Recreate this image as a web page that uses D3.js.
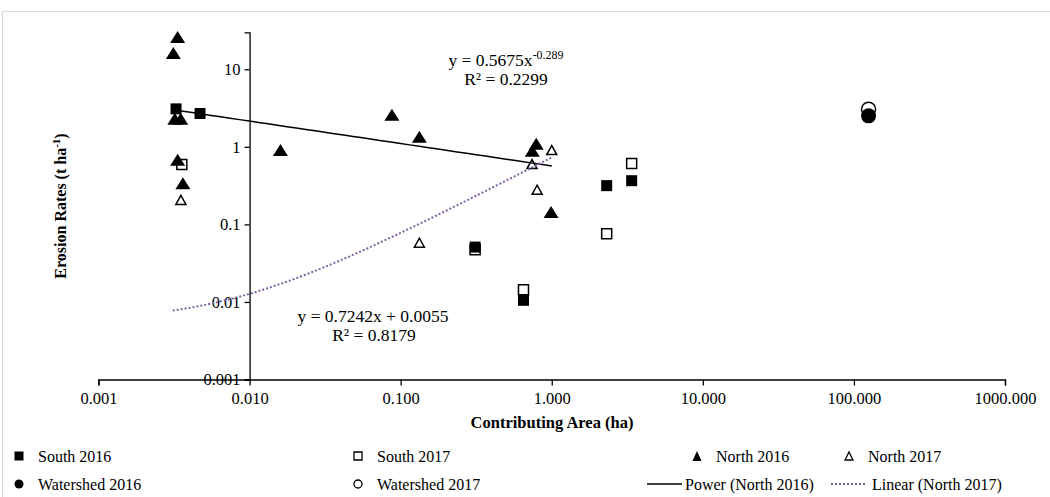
<!DOCTYPE html>
<html>
<head>
<meta charset="utf-8">
<script src="https://cdn.jsdelivr.net/npm/d3@7"></script>
<style>
  body { margin: 0; background: #fff; }
  text { font-family: "Liberation Serif", "Times New Roman", serif; fill: #000; }
</style>
</head>
<body>
<div id="chart"></div>
<script>
// data: [contributing area (ha), erosion rate (t/ha)]
var south2016 = [[0.00326, 3.09], [0.0047, 2.69], [0.311, 0.051], [0.65, 0.0105], [2.31, 0.316], [3.38, 0.366]];
var south2017 = [[0.00356, 0.59], [0.311, 0.047], [0.65, 0.0144], [2.31, 0.0757], [3.38, 0.61]];
var north2016 = [[0.00334, 26], [0.00313, 16.2], [0.0032, 2.3], [0.0035, 2.3], [0.00334, 0.68], [0.00362, 0.34],
                 [0.016, 0.91], [0.0875, 2.59], [0.133, 1.35], [0.789, 1.10], [0.743, 0.89], [0.99, 0.144]];
var north2017 = [[0.00351, 0.207], [0.133, 0.058], [0.74, 0.60], [0.80, 0.28], [1.0, 0.91]];
var watershed2016 = [[125, 2.51]];
var watershed2017 = [[125, 3.06]];

// trendline equations as printed on the chart
var powerA = 0.5675, powerB = -0.289, powerRange = [0.00313, 1.0];
var linM = 0.7242, linC = 0.0055, linRange = [0.0031, 1.0];

var xTicks = [0.001, 0.01, 0.1, 1, 10, 100, 1000];
var xTickLabels = ["0.001", "0.010", "0.100", "1.000", "10.000", "100.000", "1000.000"];
var yTicks = [0.001, 0.01, 0.1, 1, 10];
var yTickLabels = ["0.001", "0.01", "0.1", "1", "10"];

var W = 1050, H = 497;
var svg = d3.select("#chart").append("svg").attr("width", W).attr("height", H);

// chart area border
svg.append("rect").attr("x", 2.5).attr("y", 11.5).attr("width", 1100).attr("height", 600)
    .attr("fill", "none").attr("stroke", "#d9d9d9").attr("stroke-width", 1);

var x = d3.scaleLog().domain([0.001, 1000]).range([98.5, 1005]);
var y = d3.scaleLog().domain([0.001, 30]).range([379.5, 32.3]);

// x axis
var xAxis = d3.axisBottom(x).tickValues(xTicks).tickSizeOuter(0).tickSize(6)
    .tickFormat(function (d, i) { return xTickLabels[i]; });
var gx = svg.append("g").attr("transform", "translate(0," + y(0.001) + ")").call(xAxis);
gx.select(".domain").attr("stroke", "#000").attr("stroke-width", 1.3);
gx.selectAll(".tick line").attr("stroke", "#000").attr("stroke-width", 1.3);
gx.selectAll(".tick text").attr("font-size", 16.5).attr("font-family", "Liberation Serif").attr("dy", "0.95em");

// y axis crosses at x = 0.01
var yAxis = d3.axisLeft(y).tickValues(yTicks).tickSizeOuter(0).tickSize(5)
    .tickFormat(function (d, i) { return yTickLabels[i]; });
var gy = svg.append("g").attr("transform", "translate(" + x(0.01) + ",0)").call(yAxis);
gy.select(".domain").attr("stroke", "#000").attr("stroke-width", 1.3);
gy.selectAll(".tick line").attr("stroke", "#000").attr("stroke-width", 1.3);
gy.selectAll(".tick text").attr("font-size", 16.5).attr("font-family", "Liberation Serif").attr("x", -9);

// axis titles
svg.append("text").attr("x", 552).attr("y", 428).attr("text-anchor", "middle")
    .attr("font-size", 16.5).attr("font-weight", "bold").text("Contributing Area (ha)");
var yt = svg.append("text").attr("transform", "translate(66,206) rotate(-90)")
    .attr("text-anchor", "middle").attr("font-size", 16).attr("font-weight", "bold");
yt.append("tspan").text("Erosion Rates (t ha");
yt.append("tspan").attr("font-size", 11).attr("dy", -6).text("-1");
yt.append("tspan").attr("dy", 6).text(")");

// marker shapes
function tri(w, h) {
  return "M0," + (-h / 2) + "L" + (w / 2) + "," + (h / 2) + "L" + (-w / 2) + "," + (h / 2) + "Z";
}
function sq(s) {
  return "M" + (-s / 2) + "," + (-s / 2) + "h" + s + "v" + s + "h" + (-s) + "Z";
}
function circ(r) {
  return d3.symbol().type(d3.symbolCircle).size(Math.PI * r * r)();
}

function drawSeries(data, d, fill, stroke) {
  svg.append("g").selectAll("path").data(data).join("path")
    .attr("transform", function (p) { return "translate(" + x(p[0]) + "," + y(p[1]) + ")"; })
    .attr("d", d)
    .attr("fill", fill)
    .attr("stroke", stroke)
    .attr("stroke-width", stroke === "none" ? 0 : 1.5);
}

drawSeries(south2017, sq(10), "#fff", "#000");
drawSeries(south2016, sq(11), "#000", "none");
drawSeries(north2016, tri(15, 12), "#000", "none");
drawSeries(north2017, tri(10, 9), "#fff", "#000");
drawSeries(watershed2017, circ(7), "#fff", "#000");
drawSeries(watershed2016, circ(7.5), "#000", "none");

// trendlines
var line = d3.line().x(function (p) { return x(p[0]); }).y(function (p) { return y(p[1]); });
function sampleLog(r, n, f) {
  var a = Math.log10(r[0]), b = Math.log10(r[1]);
  return d3.range(n + 1).map(function (i) { var v = Math.pow(10, a + (b - a) * i / n); return [v, f(v)]; });
}
svg.append("path").datum(sampleLog(powerRange, 40, function (v) { return powerA * Math.pow(v, powerB); }))
    .attr("d", line).attr("fill", "none").attr("stroke", "#000").attr("stroke-width", 1.5);
svg.append("path").datum(sampleLog(linRange, 120, function (v) { return linM * v + linC; }))
    .attr("d", line).attr("fill", "none").attr("stroke", "#8064a2").attr("stroke-width", 2)
    .attr("stroke-dasharray", "2,2");

// equation labels
var e1 = svg.append("text").attr("x", 506).attr("y", 66).attr("text-anchor", "middle").attr("font-size", 17.5);
e1.append("tspan").text("y = 0.5675x");
e1.append("tspan").attr("font-size", 12).attr("dy", -7).text("-0.289");
svg.append("text").attr("x", 506).attr("y", 85).attr("text-anchor", "middle").attr("font-size", 17.5).text("R² = 0.2299");
svg.append("text").attr("x", 373).attr("y", 322).attr("text-anchor", "middle").attr("font-size", 17.5).text("y = 0.7242x  + 0.0055");
svg.append("text").attr("x", 374).attr("y", 341).attr("text-anchor", "middle").attr("font-size", 17.5).text("R² = 0.8179");

// legend
var legendItems = [
  { label: "South 2016", kind: "sqf", lx: 19, ly: 456 },
  { label: "South 2017", kind: "sqo", lx: 358, ly: 456 },
  { label: "North 2016", kind: "trf", lx: 697, ly: 456 },
  { label: "North 2017", kind: "tro", lx: 849, ly: 456 },
  { label: "Watershed 2016", kind: "cf", lx: 19, ly: 484 },
  { label: "Watershed 2017", kind: "co", lx: 358, ly: 484 },
  { label: "Power (North 2016)", kind: "pw", lx: 664, ly: 484 },
  { label: "Linear (North 2017)", kind: "ln", lx: 848, ly: 484 }
];
legendItems.forEach(function (it) {
  var g = svg.append("g").attr("transform", "translate(" + it.lx + "," + it.ly + ")");
  var tx = 19;
  if (it.kind === "sqf") g.append("path").attr("d", sq(9)).attr("fill", "#000");
  if (it.kind === "sqo") g.append("path").attr("d", sq(8)).attr("fill", "#fff").attr("stroke", "#000").attr("stroke-width", 1.3);
  if (it.kind === "trf") g.append("path").attr("d", tri(9, 10)).attr("fill", "#000");
  if (it.kind === "tro") g.append("path").attr("d", tri(8, 8)).attr("fill", "#fff").attr("stroke", "#000").attr("stroke-width", 1.3);
  if (it.kind === "cf") g.append("path").attr("d", circ(4.5)).attr("fill", "#000");
  if (it.kind === "co") g.append("path").attr("d", circ(4)).attr("fill", "#fff").attr("stroke", "#000").attr("stroke-width", 1.3);
  if (it.kind === "pw") {
    g.append("line").attr("x1", -17).attr("x2", 18).attr("stroke", "#000").attr("stroke-width", 1.5);
    tx = 21;
  }
  if (it.kind === "ln") {
    g.append("line").attr("x1", -17).attr("x2", 18).attr("stroke", "#8064a2").attr("stroke-width", 2).attr("stroke-dasharray", "2,2");
    tx = 24;
  }
  g.append("text").attr("x", tx).attr("y", 0).attr("dy", "0.35em").attr("font-size", 16).text(it.label);
});
</script>
</body>
</html>
